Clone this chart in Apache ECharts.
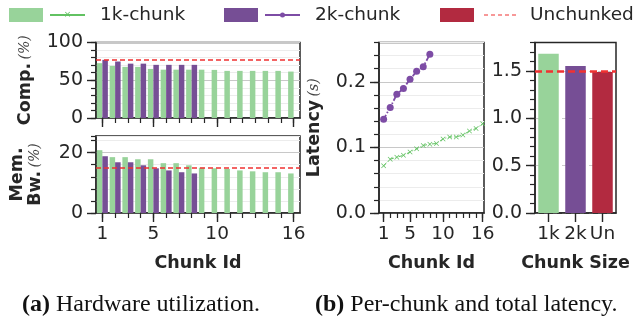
<!DOCTYPE html>
<html>
<head>
<meta charset="utf-8">
<script src="https://cdn.jsdelivr.net/npm/echarts/dist/echarts.min.js"></script>
<style>
  html, body { margin: 0; padding: 0; background: #fff; }
  #chart { width: 636px; height: 321px; }
</style>
</head>
<body>
<div id="chart"></div>
<script>
// chunk ids for the per-chunk panels
const chunkIds = ['1','2','3','4','5','6','7','8','9','10','11','12','13','14','15','16'];
const chunkNums = [1,2,3,4,5,6,7,8,9,10,11,12,13,14,15,16];

// compute utilization (%)
const comp1k = [72.6, 69, 67.7, 67.7, 65, 64, 64, 64, 64, 63.7, 62.4, 62.4, 62.4, 62.4, 62.4, 61.5];
const comp2k = [77, 74.8, 72, 72, 70.4, 70.4, 70.4, 70.4];
const compUnchunked = 77;

// memory bandwidth utilization (%)
const mem1k = [20.8, 18.5, 18.5, 17.8, 17.8, 16.5, 16.5, 15.8, 15.0, 14.8, 14.6, 14.1, 13.8, 13.5, 13.5, 13.1];
const mem2k = [18.8, 16.8, 16.8, 15.8, 14.8, 14.1, 13.5, 13.1];
const memUnchunked = 14.9;

// per-chunk latency (s)
const lat1k = [0.072, 0.082, 0.085, 0.088, 0.093, 0.098, 0.103, 0.105, 0.106, 0.113, 0.116, 0.116, 0.119, 0.125, 0.129, 0.136];
const lat2k = [0.143, 0.161, 0.181, 0.190, 0.204, 0.216, 0.223, 0.242];

// total latency (s)
const sizeLabels = ['1k', '2k', 'Un'];
const totalLatency = [1.68, 1.553, 1.489];
const totalUnchunked = 1.5;

// major ticks (labelled)
const compTicks = [0, 50, 100];
const memTicks = [0, 20];
const latTicks = [0, 0.1, 0.2];
const totalTicks = [0, 0.5, 1.0, 1.5];
const idTicks = [1, 5, 10, 16];

const GREEN = '#98d39a', PURPLE = '#764e95', RED = '#b22a40';
const GREEN_LINE = '#62c262', PURPLE_LINE = '#7d4ca5', RED_LINE = '#f03232';
const INK = '#262626';
const FONT = 'DejaVu Sans';

let myChart = echarts.init(document.getElementById('chart'), null, { renderer: 'canvas' });

const yTickLabel = { fontFamily: FONT, fontSize: 19, color: INK, margin: 13 };
const xTickLabel = { fontFamily: FONT, fontSize: 18.5, color: INK, margin: 12 };
const axisLine = { show: true, lineStyle: { color: INK, width: 1.5 } };
const minorTick = { show: true, length: 5, lineStyle: { color: INK, width: 1.2 } };
const majorTick = { show: true, length: 9, lineStyle: { color: INK, width: 1.4 } };
const gridBox = { show: true, borderColor: INK, borderWidth: 1.5, backgroundColor: 'transparent' };
const xName = { fontFamily: FONT, fontWeight: 'bold', fontSize: 17.5, color: INK };

// light grid at minor ticks, darker at the majors (color list cycles)
function splitLines(majorEvery) {
  let colors = ['#c8c8c8'];
  for (let i = 1; i < majorEvery; i++) colors.push('#ececec');
  return { show: true, lineStyle: { color: colors, width: 1 } };
}

// an extra, invisible axis that only draws the long major ticks
function majorY(grid, min, max, values) {
  return {
    type: 'value', gridIndex: grid, min: min, max: max, position: 'left',
    axisLine: { show: false },
    axisTick: Object.assign({ customValues: values }, majorTick),
    axisLabel: { show: false }, splitLine: { show: false }
  };
}

const nameRich = {
  b: { fontFamily: FONT, fontWeight: 'bold', fontSize: 17.5, color: INK },
  i: { fontFamily: 'DejaVu Serif', fontStyle: 'italic', fontSize: 14, color: '#444' }
};

function redLine(val, width, dash) {
  return {
    silent: true,
    symbol: ['none', 'none'],
    label: { show: false },
    lineStyle: { color: RED_LINE, type: dash, width: width, opacity: 1 },
    data: [{ yAxis: val }]
  };
}

const isMajorId = (i, v) => idTicks.indexOf(Number(v)) >= 0;
const xMarker = 'path://M0,1L1,0L5,4L9,0L10,1L6,5L10,9L9,10L5,6L1,10L0,9L4,5Z';

let options = {
  backgroundColor: '#fff',
  animation: false,
  grid: [
    Object.assign({ left: 96, top: 42.5, width: 204, height: 75.5 }, gridBox),
    Object.assign({ left: 96, top: 136, width: 204, height: 77 }, gridBox),
    Object.assign({ left: 379, top: 42.5, width: 105, height: 170.5 }, gridBox),
    Object.assign({ left: 535, top: 42.5, width: 81, height: 170.5 }, gridBox)
  ],
  xAxis: [
    {
      type: 'category', gridIndex: 0, data: chunkIds, position: 'bottom',
      axisLine: axisLine,
      axisTick: Object.assign({ alignWithLabel: true, interval: 0 }, minorTick),
      axisLabel: { show: false },
      splitLine: { show: false }
    },
    {
      type: 'category', gridIndex: 1, data: chunkIds, position: 'bottom',
      name: 'Chunk Id', nameLocation: 'middle', nameGap: 41, nameTextStyle: xName,
      axisLine: axisLine,
      axisTick: Object.assign({ alignWithLabel: true, interval: 0 }, minorTick),
      axisLabel: Object.assign({ interval: isMajorId }, xTickLabel),
      splitLine: { show: false }
    },
    {
      type: 'value', gridIndex: 2, min: 0.3, max: 16.2, position: 'bottom',
      name: 'Chunk Id', nameLocation: 'middle', nameGap: 41, nameTextStyle: xName,
      axisLine: axisLine,
      axisTick: Object.assign({ customValues: chunkNums }, minorTick),
      axisLabel: Object.assign({ customValues: idTicks }, xTickLabel),
      splitLine: { show: false }
    },
    {
      type: 'category', gridIndex: 3, data: sizeLabels, position: 'bottom',
      name: 'Chunk Size', nameLocation: 'middle', nameGap: 41, nameTextStyle: xName,
      axisLine: axisLine,
      axisTick: Object.assign({ alignWithLabel: true }, majorTick),
      axisLabel: Object.assign({ interval: 0 }, xTickLabel),
      splitLine: { show: false }
    },
    // long ticks at the labelled chunk ids
    {
      type: 'category', gridIndex: 0, data: chunkIds, position: 'bottom',
      axisLine: { show: false },
      axisTick: Object.assign({ alignWithLabel: true, interval: isMajorId }, majorTick),
      axisLabel: { show: false }, splitLine: { show: false }
    },
    {
      type: 'category', gridIndex: 1, data: chunkIds, position: 'bottom',
      axisLine: { show: false },
      axisTick: Object.assign({ alignWithLabel: true, interval: isMajorId }, majorTick),
      axisLabel: { show: false }, splitLine: { show: false }
    },
    {
      type: 'value', gridIndex: 2, min: 0.3, max: 16.2, position: 'bottom',
      axisLine: { show: false },
      axisTick: Object.assign({ customValues: idTicks }, majorTick),
      axisLabel: { show: false }, splitLine: { show: false }
    }
  ],
  yAxis: [
    {
      type: 'value', gridIndex: 0, min: 0, max: 100, interval: 10, position: 'left',
      name: '{b|Comp.} {i|(%)}', nameLocation: 'middle', nameGap: 62, nameRotate: 90,
      nameTextStyle: { rich: nameRich },
      axisLine: axisLine, axisTick: minorTick,
      axisLabel: Object.assign({ customValues: compTicks }, yTickLabel),
      splitLine: splitLines(5)
    },
    {
      type: 'value', gridIndex: 1, min: 0, max: 25.5, interval: 4, position: 'left',
      name: '{b|Mem.}\n{b|Bw.} {i|(%)}', nameLocation: 'middle', nameGap: 52, nameRotate: 90,
      nameTextStyle: { rich: nameRich, lineHeight: 18 },
      axisLine: axisLine, axisTick: minorTick,
      axisLabel: Object.assign({ customValues: memTicks }, yTickLabel),
      splitLine: splitLines(5)
    },
    {
      type: 'value', gridIndex: 2, min: 0, max: 0.26, interval: 0.02, position: 'left',
      name: '{b|Latency} {i|(s)}', nameLocation: 'middle', nameGap: 56, nameRotate: 90,
      nameTextStyle: { rich: nameRich },
      axisLine: axisLine, axisTick: minorTick,
      axisLabel: Object.assign({ customValues: latTicks, formatter: v => v.toFixed(1) }, yTickLabel),
      splitLine: splitLines(5)
    },
    {
      type: 'value', gridIndex: 3, min: 0, max: 1.8, interval: 0.1, position: 'left',
      axisLine: axisLine, axisTick: minorTick,
      axisLabel: Object.assign({ customValues: totalTicks, formatter: v => v.toFixed(1) }, yTickLabel),
      splitLine: {
        show: true,
        lineStyle: { color: ['#cccccc', 'transparent', 'transparent', 'transparent', 'transparent'], type: [4, 5] }
      }
    },
    majorY(0, 0, 100, compTicks),
    majorY(1, 0, 25.5, memTicks),
    majorY(2, 0, 0.26, latTicks),
    majorY(3, 0, 1.8, totalTicks)
  ],
  series: [
    // compute utilization
    {
      type: 'bar', xAxisIndex: 0, yAxisIndex: 0, data: comp1k,
      barWidth: 5.5, barGap: '0%', itemStyle: { color: GREEN }
    },
    {
      type: 'bar', xAxisIndex: 0, yAxisIndex: 0, data: comp2k,
      barWidth: 5.5, barGap: '0%', itemStyle: { color: PURPLE },
      markLine: redLine(compUnchunked, 1.5, [5, 3])
    },
    // memory bandwidth
    {
      type: 'bar', xAxisIndex: 1, yAxisIndex: 1, data: mem1k,
      barWidth: 5.5, barGap: '0%', itemStyle: { color: GREEN }
    },
    {
      type: 'bar', xAxisIndex: 1, yAxisIndex: 1, data: mem2k,
      barWidth: 5.5, barGap: '0%', itemStyle: { color: PURPLE },
      markLine: redLine(memUnchunked, 1.5, [5, 3])
    },
    // per-chunk latency
    {
      type: 'line', xAxisIndex: 2, yAxisIndex: 2,
      data: lat1k.map((v, i) => [chunkNums[i], v]),
      symbol: xMarker, symbolSize: 5,
      itemStyle: { color: GREEN_LINE },
      lineStyle: { color: GREEN_LINE, width: 1, type: [4, 2, 1, 2] }
    },
    {
      type: 'line', xAxisIndex: 2, yAxisIndex: 2,
      data: lat2k.map((v, i) => [chunkNums[i], v]),
      symbol: 'circle', symbolSize: 7,
      itemStyle: { color: PURPLE_LINE },
      lineStyle: { color: PURPLE_LINE, width: 1.8, type: [5, 2, 1.5, 2] }
    },
    // total latency
    {
      type: 'bar', xAxisIndex: 3, yAxisIndex: 3,
      data: totalLatency.map((v, i) => ({ value: v, itemStyle: { color: [GREEN, PURPLE, RED][i] } })),
      barWidth: 20.5,
      markLine: redLine(totalUnchunked, 2.5, [7, 4])
    }
  ],
  graphic: [
    // legend
    { type: 'rect', shape: { x: 9, y: 8, width: 34, height: 14 }, style: { fill: GREEN } },
    { type: 'line', shape: { x1: 50, y1: 15, x2: 85, y2: 15 }, style: { stroke: GREEN_LINE, lineWidth: 1.8 } },
    { type: 'text', x: 67.5, y: 15, style: { text: '×', fill: GREEN_LINE, font: '9px DejaVu Sans', textAlign: 'center', textVerticalAlign: 'middle' } },
    { type: 'text', x: 100, y: 15, style: { text: '1k-chunk', fill: INK, font: '18.5px DejaVu Sans', textVerticalAlign: 'middle' } },

    { type: 'rect', shape: { x: 224, y: 8, width: 34, height: 14 }, style: { fill: PURPLE } },
    { type: 'line', shape: { x1: 265, y1: 15, x2: 300, y2: 15 }, style: { stroke: PURPLE_LINE, lineWidth: 1.8 } },
    { type: 'circle', shape: { cx: 282.5, cy: 15, r: 2.5 }, style: { fill: PURPLE_LINE } },
    { type: 'text', x: 315, y: 15, style: { text: '2k-chunk', fill: INK, font: '18.5px DejaVu Sans', textVerticalAlign: 'middle' } },

    { type: 'rect', shape: { x: 440, y: 8, width: 34, height: 14 }, style: { fill: RED } },
    { type: 'line', shape: { x1: 484, y1: 15, x2: 516, y2: 15 }, style: { stroke: RED_LINE, lineWidth: 1.2, lineDash: [4, 3] } },
    { type: 'text', x: 530, y: 15, style: { text: 'Unchunked', fill: INK, font: '18.5px DejaVu Sans', textVerticalAlign: 'middle' } },

    // sub-captions
    {
      type: 'text', x: 22, y: 305,
      style: {
        text: '{b|(a)} Hardware utilization.',
        textVerticalAlign: 'middle',
        rich: {
          b: { fontFamily: 'Liberation Serif', fontWeight: 'bold', fontSize: 24, fill: '#111' }
        },
        font: '24px Liberation Serif', fill: '#111'
      }
    },
    {
      type: 'text', x: 315, y: 305,
      style: {
        text: '{b|(b)} Per-chunk and total latency.',
        textVerticalAlign: 'middle',
        rich: {
          b: { fontFamily: 'Liberation Serif', fontWeight: 'bold', fontSize: 24, fill: '#111' }
        },
        font: '24px Liberation Serif', fill: '#111'
      }
    }
  ]
};

myChart.setOption(options);
</script>
</body>
</html>
